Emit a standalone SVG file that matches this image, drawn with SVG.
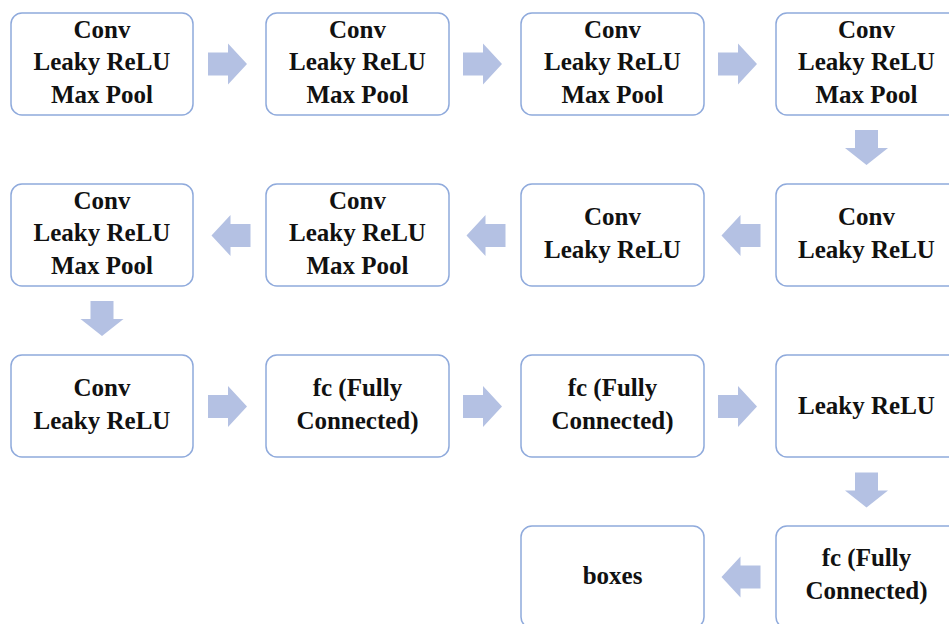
<svg xmlns="http://www.w3.org/2000/svg" width="949" height="624" viewBox="0 0 949 624">
  <style>
    .box { fill: #ffffff; stroke: #8faadc; stroke-width: 1.5; }
    .lbl { font-family: "Liberation Serif", "Times New Roman", serif; font-weight: bold; font-size: 25px; fill: #111111; text-anchor: middle; }
    .arrow { fill: #b4c1e3; stroke: none; }
  </style>
  <defs>
    <!-- block arrows drawn around origin; placed with translate -->
    <polygon id="arR" points="-19.5,-11.5 0.5,-11.5 0.5,-20.5 19.5,0 0.5,20.5 0.5,11.5 -19.5,11.5"/>
    <polygon id="arL" points="19.5,-11.5 -0.5,-11.5 -0.5,-20.5 -19.5,0 -0.5,20.5 -0.5,11.5 19.5,11.5"/>
    <polygon id="arD" points="-11.5,-17.5 11.5,-17.5 11.5,0.5 21.5,0.5 0,17.5 -21.5,0.5 -11.5,0.5"/>
  </defs>
  <rect width="949" height="624" fill="#ffffff"/>

  <!-- connectors -->
  <g id="connectors" class="arrow">
    <use href="#arR" x="227.5" y="64"/>
    <use href="#arR" x="482.5" y="64"/>
    <use href="#arR" x="737.5" y="64"/>
    <use href="#arD" x="866.5" y="147.5"/>
    <use href="#arL" x="741" y="235.5"/>
    <use href="#arL" x="486" y="235.5"/>
    <use href="#arL" x="231" y="235.5"/>
    <use href="#arD" x="102" y="318.5"/>
    <use href="#arR" x="227.5" y="406.5"/>
    <use href="#arR" x="482.5" y="406.5"/>
    <use href="#arR" x="737.5" y="406.5"/>
    <use href="#arD" x="866.5" y="490"/>
    <use href="#arL" x="741" y="577"/>
  </g>

  <!-- row 1 -->
  <g id="n1">
    <rect class="box" x="11" y="13" width="182" height="102" rx="11"/>
    <text class="lbl" x="102" y="37.5">Conv</text>
    <text class="lbl" x="102" y="70">Leaky ReLU</text>
    <text class="lbl" x="102" y="102.5">Max Pool</text>
  </g>
  <g id="n2">
    <rect class="box" x="266" y="13" width="183" height="102" rx="11"/>
    <text class="lbl" x="357.5" y="37.5">Conv</text>
    <text class="lbl" x="357.5" y="70">Leaky ReLU</text>
    <text class="lbl" x="357.5" y="102.5">Max Pool</text>
  </g>
  <g id="n3">
    <rect class="box" x="521" y="13" width="183" height="102" rx="11"/>
    <text class="lbl" x="612.5" y="37.5">Conv</text>
    <text class="lbl" x="612.5" y="70">Leaky ReLU</text>
    <text class="lbl" x="612.5" y="102.5">Max Pool</text>
  </g>
  <g id="n4">
    <rect class="box" x="776" y="13" width="183" height="102" rx="11"/>
    <text class="lbl" x="866.5" y="37.5">Conv</text>
    <text class="lbl" x="866.5" y="70">Leaky ReLU</text>
    <text class="lbl" x="866.5" y="102.5">Max Pool</text>
  </g>

  <!-- row 2 -->
  <g id="n5">
    <rect class="box" x="776" y="184" width="183" height="102" rx="11"/>
    <text class="lbl" x="866.5" y="224.5">Conv</text>
    <text class="lbl" x="866.5" y="257.5">Leaky ReLU</text>
  </g>
  <g id="n6">
    <rect class="box" x="521" y="184" width="183" height="102" rx="11"/>
    <text class="lbl" x="612.5" y="224.5">Conv</text>
    <text class="lbl" x="612.5" y="257.5">Leaky ReLU</text>
  </g>
  <g id="n7">
    <rect class="box" x="266" y="184" width="183" height="102" rx="11"/>
    <text class="lbl" x="357.5" y="208.5">Conv</text>
    <text class="lbl" x="357.5" y="241">Leaky ReLU</text>
    <text class="lbl" x="357.5" y="273.5">Max Pool</text>
  </g>
  <g id="n8">
    <rect class="box" x="11" y="184" width="182" height="102" rx="11"/>
    <text class="lbl" x="102" y="208.5">Conv</text>
    <text class="lbl" x="102" y="241">Leaky ReLU</text>
    <text class="lbl" x="102" y="273.5">Max Pool</text>
  </g>

  <!-- row 3 -->
  <g id="n9">
    <rect class="box" x="11" y="355" width="182" height="102" rx="11"/>
    <text class="lbl" x="102" y="395.5">Conv</text>
    <text class="lbl" x="102" y="428.5">Leaky ReLU</text>
  </g>
  <g id="n10">
    <rect class="box" x="266" y="355" width="183" height="102" rx="11"/>
    <text class="lbl" x="357.5" y="395.5">fc (Fully</text>
    <text class="lbl" x="357.5" y="428.5">Connected)</text>
  </g>
  <g id="n11">
    <rect class="box" x="521" y="355" width="183" height="102" rx="11"/>
    <text class="lbl" x="612.5" y="395.5">fc (Fully</text>
    <text class="lbl" x="612.5" y="428.5">Connected)</text>
  </g>
  <g id="n12">
    <rect class="box" x="776" y="355" width="183" height="102" rx="11"/>
    <text class="lbl" x="866.5" y="413.5">Leaky ReLU</text>
  </g>

  <!-- row 4 -->
  <g id="n13">
    <rect class="box" x="776" y="526" width="183" height="102" rx="11"/>
    <text class="lbl" x="866.5" y="566">fc (Fully</text>
    <text class="lbl" x="866.5" y="599">Connected)</text>
  </g>
  <g id="n14">
    <rect class="box" x="521" y="526" width="183" height="102" rx="11"/>
    <text class="lbl" x="612.5" y="584">boxes</text>
  </g>
</svg>
